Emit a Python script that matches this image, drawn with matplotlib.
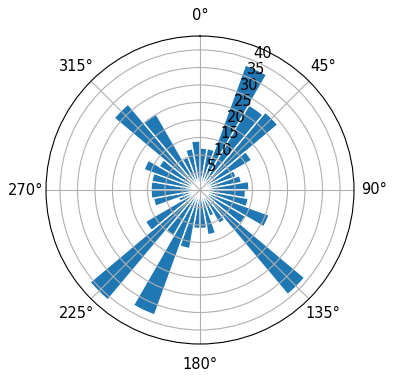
import numpy as np
import matplotlib
matplotlib.use("Agg")
import matplotlib.pyplot as plt

# direction bins (deg, centre of each 10 deg sector) and counts
directions = np.arange(5, 360, 10)
counts = [12, 12, 38, 28, 29, 17, 11, 12, 14, 13,
          14, 21, 15, 39, 11, 8, 13, 11, 11, 17,
          38, 15, 41, 18, 6.5, 13.5, 14, 14, 14, 17,
          13.5, 32, 25, 10, 12, 14]
rticks = [5, 10, 15, 20, 25, 30, 35, 40]

plt.rcParams["font.size"] = 10.5

fig = plt.figure(figsize=(3.96, 3.8), dpi=100)
# polar circle ~308 px across, centred at (200, 190) px
ax = fig.add_axes([46 / 396, 36 / 380, 308 / 396, 308 / 380],
                  projection="polar")
ax.set_theta_zero_location("N")
ax.set_theta_direction(-1)

width = np.deg2rad(10)
ax.bar(np.deg2rad(directions), counts, width=width, bottom=0.0,
       color="tab:blue", edgecolor="white", linewidth=1)

ax.set_rticks(rticks)
ax.set_ylim(0, 44)
ax.tick_params(axis="x", pad=4)
ax.grid(True)

fig.savefig("out.png", dpi=100)
